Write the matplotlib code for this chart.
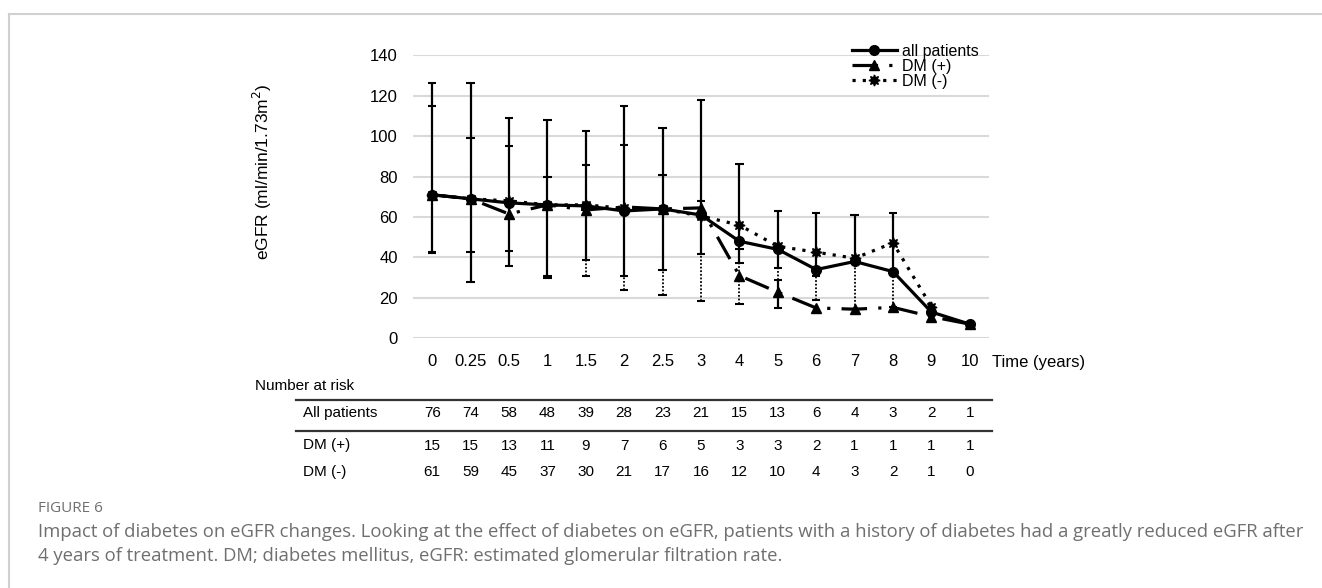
import numpy as np
import matplotlib.pyplot as plt
from matplotlib.lines import Line2D
from matplotlib.transforms import blended_transform_factory

plt.rcParams['font.family'] = ['Liberation Sans', 'DejaVu Sans']

# datos
tiempos = ['0', '0.25', '0.5', '1', '1.5', '2', '2.5', '3', '4', '5', '6', '7', '8', '9', '10']
todos = [71, 69, 67, 66, 65.5, 63, 64, 61, 48, 44, 34, 38, 33, 13, 7]
dm_pos = [71, 69, 61.5, 66, 63.5, 65, 64, 64.5, 31, 22.8, 15, 14.4, 15.3, 10.7, 7]
dm_neg = [71, 69, 68, 66, 66, 64.3, 64, 60.5, 56, 45.5, 42.6, 39.6, 47.2, 15.7, np.nan]

nan = np.nan
err_top = [126.4, 126.4, 109.0, 107.8, 102.5, 115.1, 104.0, 118.0, 86.1, 63.0, 61.8, 61.0, 62.0, nan, nan]
err_solid_lo = [42.0, 27.7, 35.8, 29.7, 38.7, 30.6, 33.8, 41.9, 37.1, 34.6, 30.8, 37.9, 32.6, nan, nan]
err_dot_lo = [nan, nan, nan, nan, 30.8, 23.9, 21.6, 18.6, 16.8, 28.8, 18.9, 14.4, 15.6, nan, nan]
err_lo2 = [nan, nan, nan, nan, nan, nan, nan, nan, nan, 15.0, nan, nan, nan, nan, nan]
err_mid = [115.0, 98.9, 95.0, 79.8, 85.9, 95.8, 80.9, 67.8, 44.0, nan, nan, nan, nan, nan, nan]
err_mid2 = [42.8, 42.7, 43.0, 30.8, nan, nan, nan, nan, nan, nan, nan, nan, nan, nan, nan]

filas = ['All patients', 'DM (+)', 'DM (-)']
n_todos = [76, 74, 58, 48, 39, 28, 23, 21, 15, 13, 6, 4, 3, 2, 1]
n_pos = [15, 15, 13, 11, 9, 7, 6, 5, 3, 3, 2, 1, 1, 1, 1]
n_neg = [61, 59, 45, 37, 30, 21, 17, 16, 12, 10, 4, 3, 2, 1, 0]

W, H = 1322, 588
fig = plt.figure(figsize=(W / 100, H / 100), dpi=100)
ax = fig.add_axes([413 / W, 1 - 338.3 / H, 576 / W, 283 / H])

x = np.arange(len(tiempos))
cap = 0.11

# barras de error
def barra(lo, hi, estilo, lw):
    lo = np.array(lo, dtype=float)
    hi = np.array(hi, dtype=float)
    ok = ~np.isnan(lo) & ~np.isnan(hi)
    ax.vlines(x[ok], lo[ok], hi[ok], colors='black', linestyles=estilo, lw=lw, zorder=2)

def tapas(v):
    v = np.array(v, dtype=float)
    ok = ~np.isnan(v)
    ax.hlines(v[ok], x[ok] - cap, x[ok] + cap, colors='black', lw=1.5, zorder=2)

barra(err_solid_lo, err_top, 'solid', 1.6)
barra(err_dot_lo, err_solid_lo, (0, (1, 1)), 1.3)
barra(err_lo2, err_dot_lo, 'solid', 1.6)
for v in [err_top, err_solid_lo, err_dot_lo, err_lo2, err_mid, err_mid2]:
    tapas(v)

l1, = ax.plot(x, todos, color='black', lw=2.3, marker='o', ms=7, zorder=4, label='all patients')
l2, = ax.plot(x, dm_pos, color='black', lw=2.3, marker='^', ms=7, zorder=3, label='DM (+)',
              dashes=(8, 3.5, 1, 3.5))
l3, = ax.plot(x, dm_neg, color='black', lw=2.3, marker=(8, 1, 0), ms=8, zorder=3, label='DM (-)',
              dashes=(1, 2.2))

ax.set_xlim(-0.5, len(tiempos) - 0.5)
ax.set_ylim(0, 140)
ax.set_yticks(np.arange(0, 141, 20))
ax.set_xticks(x)
ax.set_xticklabels(tiempos)
ax.tick_params(axis='both', length=0, labelsize=12)
ax.tick_params(axis='x', pad=11)
ax.tick_params(axis='y', pad=11)
ax.grid(axis='y', color='#d9d9d9', lw=1.5)
ax.set_axisbelow(True)
for s in ax.spines.values():
    s.set_visible(False)

fig.text(262 / W, 1 - 172 / H, r'eGFR (ml/min/1.73m$^2$)', rotation=90, ha='center', va='center', fontsize=12.5)
fig.text(992 / W, 1 - 363 / H, 'Time (years)', ha='left', va='center', fontsize=12)

ax.legend(handles=[l1, l2, l3], loc='upper left', bbox_to_anchor=(852 / W, 1 - 44 / H),
          bbox_transform=fig.transFigure, frameon=False, borderpad=0, borderaxespad=0,
          handlelength=2.8, handletextpad=0.3, labelspacing=0.0, fontsize=11.5)

# tabla de numero en riesgo
fig.text(255 / W, 1 - 386 / H, 'Number at risk', ha='left', va='center', fontsize=11)
tr = blended_transform_factory(ax.transData, fig.transFigure)
filas_y = [413.3, 445.5, 472]
for nombre, valores, yy in zip(filas, [n_todos, n_pos, n_neg], filas_y):
    fig.text(302.7 / W, 1 - yy / H, nombre, ha='left', va='center', fontsize=11)
    for xi, n in zip(x, valores):
        fig.text(xi, 1 - yy / H, str(n), transform=tr, ha='center', va='center', fontsize=11)
for yy in [399.5, 430.7]:
    fig.add_artist(Line2D([296 / W, 992 / W], [1 - yy / H, 1 - yy / H], color='#333333', lw=1.6))

# marco y leyenda de la figura
fig.add_artist(Line2D([9 / W, 1], [1 - 14 / H, 1 - 14 / H], color='#d0d0d0', lw=1.5))
fig.add_artist(Line2D([9 / W, 9 / W], [0, 1 - 14 / H], color='#d0d0d0', lw=1.5))
gris = '#6f6f6f'
fig.text(38 / W, 1 - 508 / H, 'FIGURE 6', ha='left', va='center', fontsize=11, color=gris,
         family=['Open Sans', 'DejaVu Sans'])
fig.text(38 / W, 1 - 532 / H, 'Impact of diabetes on eGFR changes. Looking at the effect of diabetes on eGFR, '
         'patients with a history of diabetes had a greatly reduced eGFR after', ha='left', va='center',
         fontsize=13.3, color=gris, family=['Open Sans', 'DejaVu Sans'])
fig.text(38 / W, 1 - 556 / H, '4 years of treatment. DM; diabetes mellitus, eGFR: estimated glomerular filtration rate.',
         ha='left', va='center', fontsize=13.3, color=gris, family=['Open Sans', 'DejaVu Sans'])

plt.savefig('out.png', dpi=100)
